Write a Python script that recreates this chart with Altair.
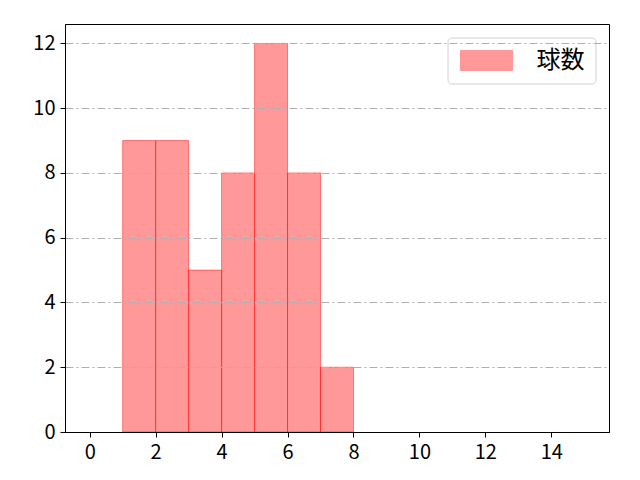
import altair as alt
import pandas as pd

bin_start = [1, 2, 3, 4, 5, 6, 7]
bin_end = [2, 3, 4, 5, 6, 7, 8]
counts = [9, 9, 5, 8, 12, 8, 2]
series = ["球数"] * 7
x_ticks = [0, 2, 4, 6, 8, 10, 12, 14]
y_ticks = [0, 2, 4, 6, 8, 10, 12]

df = pd.DataFrame({"start": bin_start, "end": bin_end, "count": counts, "series": series})

FONT = "Noto Sans CJK JP"

axis_common = dict(
    zindex=1,
    domain=True,
    domainColor="black",
    domainWidth=1,
    ticks=True,
    tickColor="black",
    tickSize=5,
    tickWidth=1,
    labelFont=FONT,
    labelFontSize=20,
    labelColor="black",
    labelPadding=5,
    title=None,
)

chart = alt.Chart(df).mark_rect(
    fillOpacity=0.4, stroke="#ff0000", strokeOpacity=0.45, strokeWidth=1
).encode(
    x=alt.X("start:Q",
            scale=alt.Scale(domain=[-0.75, 15.75], nice=False, zero=False),
            axis=alt.Axis(values=x_ticks, grid=False, format="d", **axis_common)),
    x2="end:Q",
    y=alt.Y("count:Q",
            scale=alt.Scale(domain=[0, 12.6], nice=False),
            axis=alt.Axis(values=y_ticks, grid=True, gridColor="#b0b0b0",
                          gridDash=[8, 3, 2, 3], gridWidth=1, format="d", **axis_common)),
    y2=alt.datum(0),
    color=alt.Color("series:N",
                    scale=alt.Scale(range=["#ff0000"]),
                    legend=alt.Legend(
                        title=None,
                        orient="none",
                        legendX=382.5,
                        legendY=13.5,
                        padding=11,
                        strokeColor="#d0d0d0",
                        cornerRadius=4,
                        fillColor="white",
                        symbolType="M-1,-1L4.2,-1L4.2,1L-1,1Z",
                        symbolSize=400,
                        symbolOpacity=0.4,
                        symbolStrokeColor="#ff0000",
                        symbolStrokeWidth=1,
                        labelFont=FONT,
                        labelFontSize=24,
                        labelColor="black",
                        labelOffset=54,
                    )),
).properties(
    width=544,
    height=408,
    padding={"left": 57, "top": 16, "right": 23, "bottom": 40},
    autosize=alt.AutoSizeParams(type="none"),
).configure(
    background="white"
).configure_view(
    stroke="black", strokeWidth=1
)

chart.save("out.html", embed_options={"renderer": "svg", "actions": False})
